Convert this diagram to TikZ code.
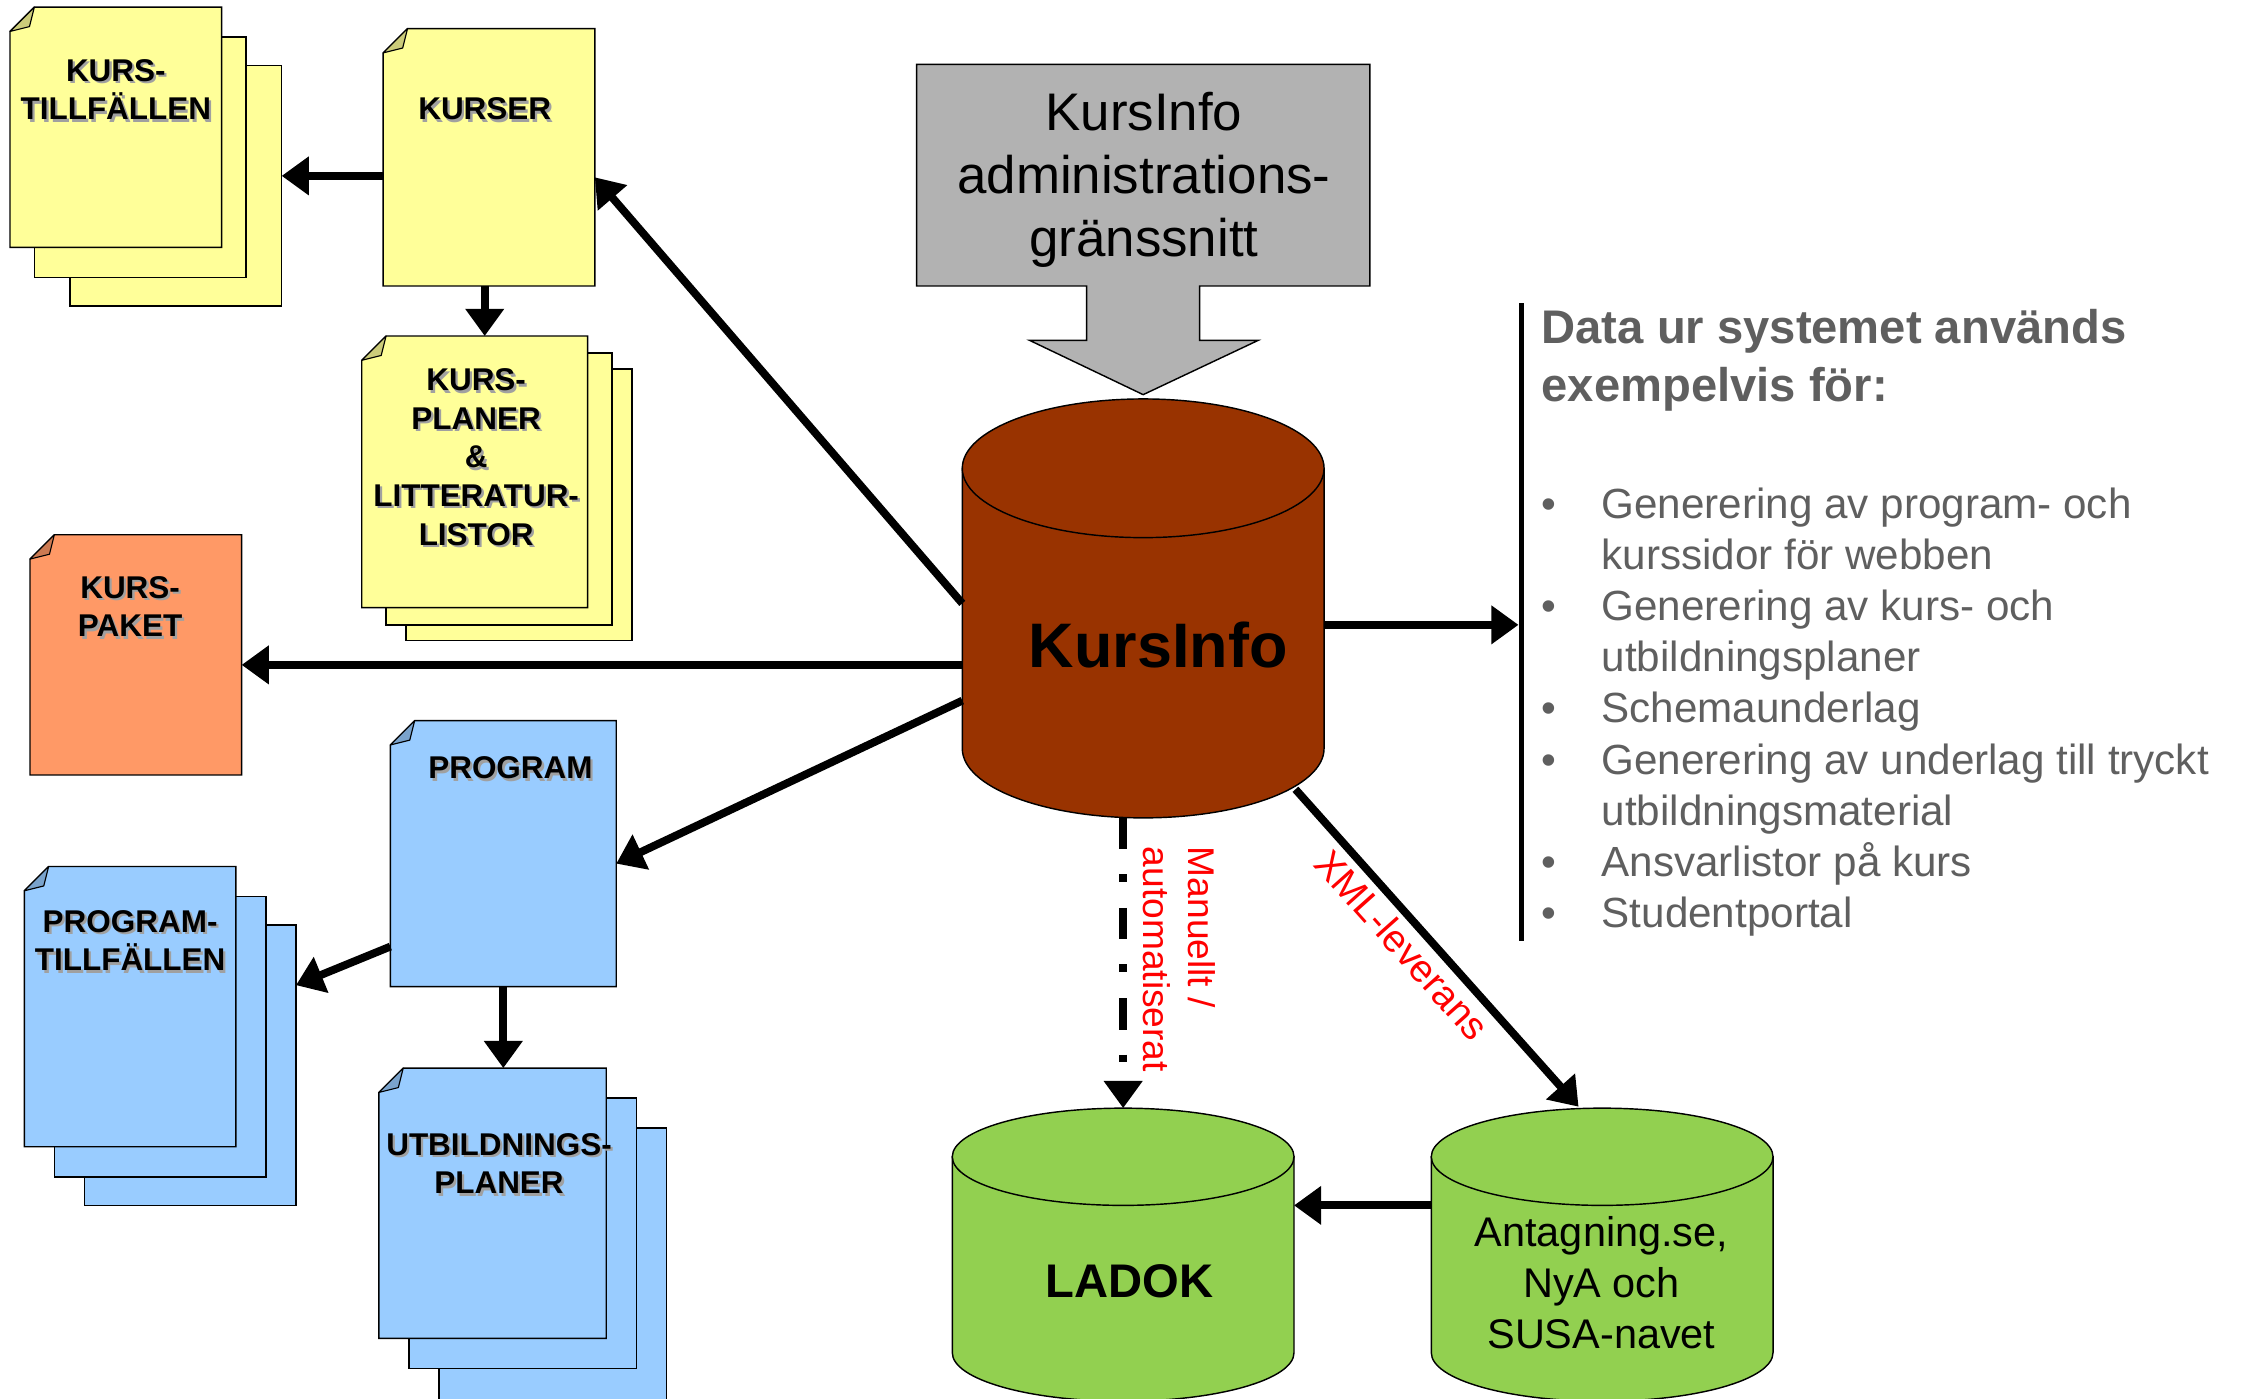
\documentclass[tikz,border=0pt]{standalone}
\usepackage{fontspec}
\setmainfont{Liberation Sans}
\usetikzlibrary{arrows.meta}
\definecolor{pyellow}{HTML}{FFFF99}
\definecolor{pyellowd}{HTML}{CCCC7A}
\definecolor{porange}{HTML}{FF9966}
\definecolor{poranged}{HTML}{CC7A52}
\definecolor{pblue}{HTML}{99CCFF}
\definecolor{pblued}{HTML}{7AA3CC}
\definecolor{cbrown}{HTML}{993300}
\definecolor{cgreen}{HTML}{92D050}
\definecolor{agray}{HTML}{B2B2B2}
\definecolor{tgray}{HTML}{5F5F5F}
\definecolor{shadowc}{HTML}{A0A0A0}
\newcommand\shd[1]{\makebox[0pt][l]{\hspace{1.6pt}\raisebox{-1.6pt}{\textcolor{shadowc}{#1}}}#1}
% x y w h fill fold
\newcommand\pageshape[6]{%
  \filldraw[fill=#5, line width=1pt] (#1,#2+17) -- (#1+17,#2) -- (#1+#3,#2) -- (#1+#3,#2+#4) -- (#1,#2+#4) -- cycle;
  \filldraw[fill=#6, line width=0.8pt, line join=round] (#1,#2+17) -- (#1+17,#2) -- (#1+13.6,#2+13.6) -- cycle;
}
\begin{document}
\begin{tikzpicture}[x=1pt,y=-1pt,
  arr/.style={line width=5.5pt, -{Triangle[length=19pt,width=26pt]}},
  cover/.style={inner sep=0pt, outer sep=0pt, draw=none},
  boxtext/.style={font=\bfseries\fontsize{22}{27}\selectfont, align=center, inner sep=0pt},
  plain/.style={line width=1pt},
  ]
\useasboundingbox (0,0) rectangle (1568,978);
\clip (0,0) rectangle (1568,978);

% ---------- KURS-TILLFÄLLEN ----------
\filldraw[plain, fill=pyellow] (49,46) rectangle (197,214);
\filldraw[plain, fill=pyellow] (24,26) rectangle (172,194);
\pageshape{7}{5}{148}{168}{pyellow}{pyellowd}
\node[cover, minimum width=190pt, minimum height=209pt] (tillf) at (102,109.5) {};
\node[boxtext] (tillft) at (81,63.5) {\shd{KURS-}\\\shd{TILLFÄLLEN}};

% ---------- KURSER ----------
\pageshape{268}{20}{148}{180}{pyellow}{pyellowd}
\node[cover, minimum width=148pt, minimum height=180pt] (kurser) at (342,110) {};
\node[boxtext] (kursert) at (339,77) {\shd{KURSER}};

% ---------- KURSPLANER ----------
\filldraw[plain, fill=pyellow] (284,258) rectangle (442,448);
\filldraw[plain, fill=pyellow] (270,247) rectangle (428,437);
\pageshape{253}{235}{158}{190}{pyellow}{pyellowd}
\node[cover, minimum width=189pt, minimum height=213pt] (kplan) at (347.5,341.5) {};
\node[boxtext] (kplant) at (333,320.5) {\shd{KURS-}\\\shd{PLANER}\\\shd{\&}\\\shd{LITTERATUR-}\\\shd{LISTOR}};

% ---------- KURS-PAKET ----------
\pageshape{21}{374}{148}{168}{porange}{poranged}
\node[cover, minimum width=148pt, minimum height=168pt] (kpak) at (95,458) {};
\node[boxtext] (kpakt) at (91,425) {\shd{KURS-}\\\shd{PAKET}};

% ---------- PROGRAM ----------
\pageshape{273}{504}{158}{186}{pblue}{pblued}
\node[cover, minimum width=158pt, minimum height=186pt] (prog) at (352,597) {};
\node[boxtext] (progt) at (357,538) {\shd{PROGRAM}};

% ---------- PROGRAMTILLFÄLLEN ----------
\filldraw[plain, fill=pblue] (59,647) rectangle (207,843);
\filldraw[plain, fill=pblue] (38,627) rectangle (186,823);
\pageshape{17}{606}{148}{196}{pblue}{pblued}
\node[cover, minimum width=190pt, minimum height=237pt] (ptill) at (112,724.5) {};
\node[boxtext] (ptillt) at (91,658.5) {\shd{PROGRAM-}\\\shd{TILLFÄLLEN}};

% ---------- UTBILDNINGSPLANER ----------
\filldraw[plain, fill=pblue] (307,789) rectangle (466,985);
\filldraw[plain, fill=pblue] (286,768) rectangle (445,957);
\pageshape{265}{747}{159}{189}{pblue}{pblued}
\node[cover, minimum width=201pt, minimum height=231pt] (utb) at (365.5,862.5) {};
\node[boxtext] (utbt) at (349,814.5) {\shd{UTBILDNINGS-}\\\shd{PLANER}};

% ---------- Gray block arrow ----------
\filldraw[fill=agray, line width=1pt] (641,45) -- (958,45) -- (958,200) -- (839,200) -- (839,238) -- (880,238) -- (799.5,276) -- (720,238) -- (760,238) -- (760,200) -- (641,200) -- cycle;
\node[align=center, inner sep=0pt, font=\fontsize{37}{44}\selectfont] (admin) at (800,126) {KursInfo\\administrations-\\gränssnitt};

% ---------- KursInfo cylinder ----------
\filldraw[fill=cbrown, line width=1pt] (673,327.5) -- (673,523.5) arc[start angle=180, end angle=360, x radius=126.5pt, y radius=48.5pt] -- (926,327.5) -- cycle;
\filldraw[fill=cbrown, line width=1pt] (799.5,327.5) ellipse [x radius=126.5pt, y radius=48.5pt];
\node[cover, minimum width=253pt, minimum height=293pt] (kursinfo) at (799.5,425.5) {};
\node[inner sep=0pt, font=\bfseries\fontsize{44}{50}\selectfont] (kursinfot) at (810,451) {KursInfo};

% ---------- LADOK cylinder ----------
\filldraw[fill=cgreen, line width=1pt] (666,809) -- (666,946) arc[start angle=180, end angle=360, x radius=119.5pt, y radius=34pt] -- (905,809) -- cycle;
\filldraw[fill=cgreen, line width=1pt] (785.5,809) ellipse [x radius=119.5pt, y radius=34pt];
\node[cover, minimum width=239pt, minimum height=205pt] (ladok) at (785.5,877.5) {};
\node[inner sep=0pt, font=\bfseries\fontsize{33}{40}\selectfont] (ladokt) at (790,896) {LADOK};

% ---------- Antagning cylinder ----------
\filldraw[fill=cgreen, line width=1pt] (1001,809) -- (1001,946) arc[start angle=180, end angle=360, x radius=119.5pt, y radius=34pt] -- (1240,809) -- cycle;
\filldraw[fill=cgreen, line width=1pt] (1120.5,809) ellipse [x radius=119.5pt, y radius=34pt];
\node[cover, minimum width=239pt, minimum height=205pt] (antag) at (1120.5,877.5) {};
\node[align=center, inner sep=0pt, font=\fontsize{29}{35.5}\selectfont] (antagt) at (1120,897) {Antagning.se,\\NyA och\\SUSA-navet};

% ---------- Right bar and text ----------
\draw[line width=4pt] (1064,212) -- (1064,658);
\coordinate (bar) at (1062,437);
\node[anchor=west, align=left, inner sep=0pt, text=tgray, font=\bfseries\fontsize{33}{40}\selectfont] (head) at (1078,252) {Data ur systemet används\\exempelvis för:};
\node[anchor=west, align=left, inner sep=0pt, text=tgray, font=\fontsize{29.5}{35.75}\selectfont] (list) at (1078,498) {%
\makebox[42pt][l]{•}Generering av program- och\\
\hspace*{42pt}kurssidor för webben\\
\makebox[42pt][l]{•}Generering av kurs- och\\
\hspace*{42pt}utbildningsplaner\\
\makebox[42pt][l]{•}Schemaunderlag\\
\makebox[42pt][l]{•}Generering av underlag till tryckt\\
\hspace*{42pt}utbildningsmaterial\\
\makebox[42pt][l]{•}Ansvarlistor på kurs\\
\makebox[42pt][l]{•}Studentportal};

% ---------- Connectors ----------
\draw[arr] ([yshift=3.5pt]kursinfo.west) -- ([yshift=-14pt]kurser.east);
\draw[arr] ([yshift=-39.5pt]kursinfo.west) -- ([yshift=-7pt]kpak.east);
\draw[arr] ([yshift=-64.5pt]kursinfo.west) -- ([yshift=-7pt]prog.east);
\draw[arr] ([yshift=-11.5pt]kursinfo.east) -- (bar);
\draw[arr] ([yshift=-13pt]kurser.west) -- ([yshift=-13.5pt]tillf.east);
\draw[arr] ([xshift=-3pt]kurser.south) -- ([xshift=-8.5pt]kplan.north);
\draw[arr] ([yshift=-65pt]prog.west) -- ([yshift=35.5pt]ptill.east);
\draw[arr] (prog.south) -- (prog.south |- utb.north);
\draw[arr, line cap=butt, dash pattern=on 22pt off 17.5pt on 5pt off 18.5pt] ([xshift=-14pt]kursinfo.south) -- (ladok.north);
\draw[arr] ([xshift=106.5pt, yshift=20pt]kursinfo.south) -- node[sloped, pos=0.44, below=4pt, inner sep=0pt, text=red, font=\fontsize{27}{32}\selectfont] (xml) {XML-leverans} ([xshift=-16.5pt, yshift=1pt]antag.north);
\draw[arr] ([yshift=34.5pt]antag.west) -- ([yshift=34.5pt]ladok.east);
\node[rotate=-90, anchor=west, align=left, inner sep=0pt, text=red, font=\fontsize{26}{31.5}\selectfont] (manlab) at (825,592) {Manuellt /\\automatiserat};
\end{tikzpicture}
\end{document}
